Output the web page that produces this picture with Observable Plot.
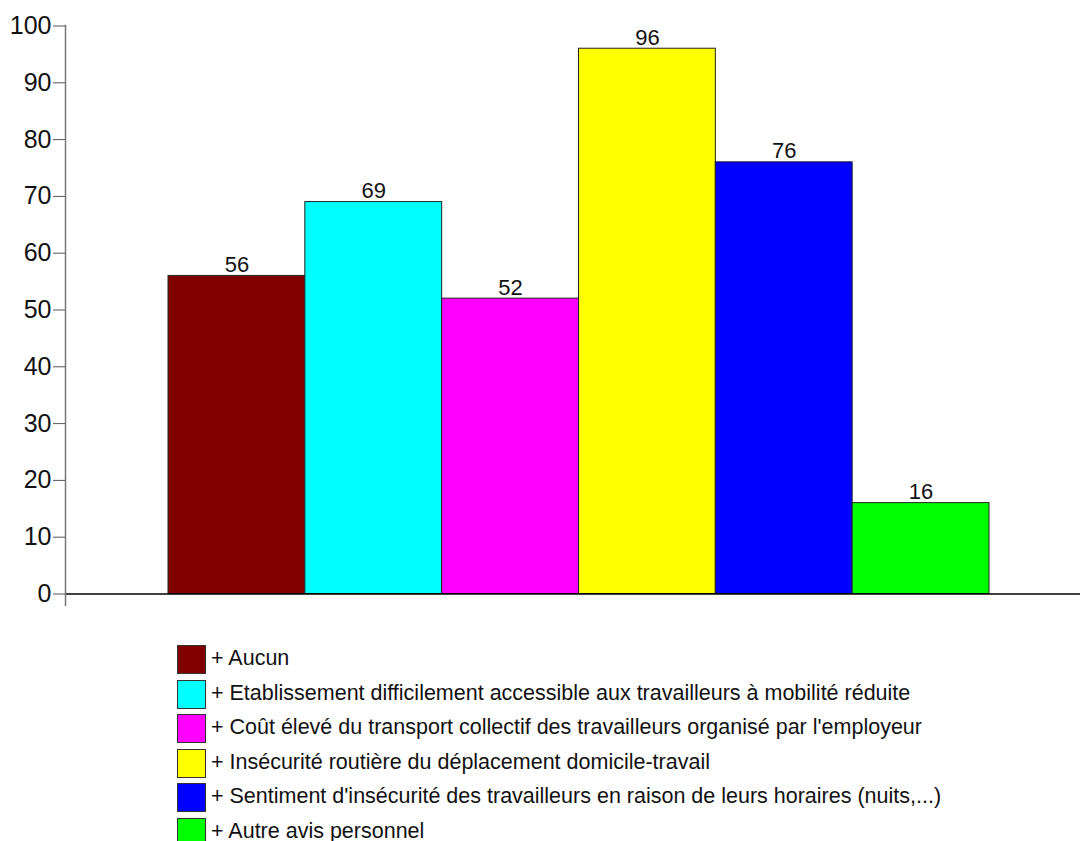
<!DOCTYPE html>
<html>
<head>
<meta charset="utf-8">
<script src="https://cdn.jsdelivr.net/npm/d3@7"></script>
<script src="https://cdn.jsdelivr.net/npm/@observablehq/plot@0.6"></script>
<style>
  body { margin: 0; background: #fff; font-family: "Liberation Sans", Arial, sans-serif; }
  #legend { position: absolute; left: 177px; top: 645px; }
  .row { display: flex; align-items: flex-start; height: 34.6px; }
  .sw { width: 27px; height: 27px; border: 1px solid #333; box-sizing: content-box; margin-right: 5px; flex: none; }
  .lab { font-size: 21.5px; line-height: 21px; margin-top: 3px; color: #111; white-space: nowrap; }
</style>
</head>
<body>
<div id="chart"></div>
<div id="legend"></div>
<script>
const categories = [
  "+ Aucun",
  "+ Etablissement difficilement accessible aux travailleurs à mobilité réduite",
  "+ Coût élevé du transport collectif des travailleurs organisé par l'employeur",
  "+ Insécurité routière du déplacement domicile-travail",
  "+ Sentiment d'insécurité des travailleurs en raison de leurs horaires (nuits,...)",
  "+ Autre avis personnel"
];
const values = [56, 69, 52, 96, 76, 16];
const colors = ["#800000", "#00ffff", "#ff00ff", "#ffff00", "#0000ff", "#00ff00"];
const yTicks = [0, 10, 20, 30, 40, 50, 60, 70, 80, 90, 100];

const data = categories.map((c, i) => ({cat: c, value: values[i], color: colors[i]}));

const chart = Plot.plot({
  width: 1080,
  height: 606,
  marginLeft: 65,
  marginRight: 0,
  marginTop: 25,
  marginBottom: 0,
  style: {fontFamily: "Liberation Sans, Arial, sans-serif", background: "#fff"},
  x: {domain: categories, range: [168, 989], paddingInner: 0, paddingOuter: 0, round: false, axis: null},
  y: {domain: [0, 100], range: [593.5, 25.5]},
  marks: [
    Plot.barY(data, {x: "cat", y: "value", fill: "color", stroke: "#222", strokeWidth: 1}),
    Plot.text(data, {x: "cat", y: "value", text: d => String(d.value), lineAnchor: "bottom", dy: -4, fontSize: 22, fill: "#111"}),
    Plot.ruleY([0], {stroke: "#000", strokeWidth: 1.5}),
    Plot.frame({anchor: "left", stroke: "#777", strokeWidth: 1.5}),
    Plot.axisY({ticks: yTicks, tickSize: 12, tickPadding: 2, fontSize: 25, stroke: "#555", fill: "#111", label: null})
  ]
});
document.getElementById("chart").appendChild(chart);

const legend = document.getElementById("legend");
categories.forEach((c, i) => {
  const row = document.createElement("div");
  row.className = "row";
  const sw = document.createElement("div");
  sw.className = "sw";
  sw.style.background = colors[i];
  const lab = document.createElement("span");
  lab.className = "lab";
  lab.textContent = c;
  row.appendChild(sw);
  row.appendChild(lab);
  legend.appendChild(row);
});
</script>
</body>
</html>
